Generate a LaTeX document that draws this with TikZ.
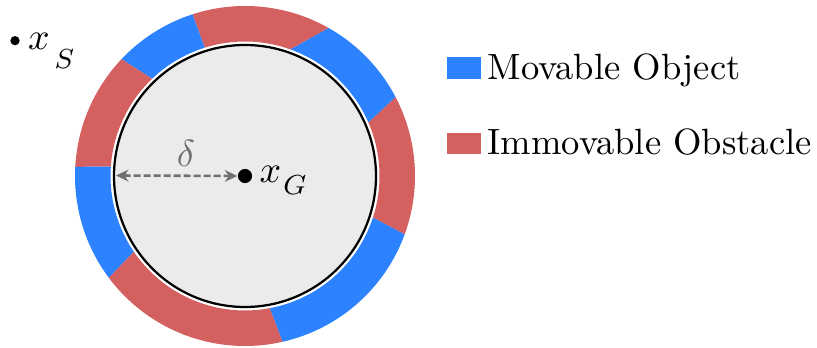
\documentclass[tikz,border=0pt]{standalone}
\usetikzlibrary{arrows.meta}
\definecolor{movblue}{RGB}{44,130,255}
\definecolor{obsred}{RGB}{212,96,96}
\definecolor{fieldgray}{RGB}{235,235,235}
\definecolor{dimgray}{RGB}{112,112,112}
% one piece of the ring: outer start/end angle, inner start/end angle, colour
\newcommand\ringpiece[5]{%
  \fill[#5] (#1:170) arc[start angle=#1,end angle=#2,radius=170]
    -- (#4:134.5) arc[start angle=#4,end angle=#3,radius=134.5] -- cycle;}
\begin{document}
\begin{tikzpicture}[x=0.29pt,y=0.29pt,
  dotnode/.style={circle,fill=black,inner sep=0pt,minimum size=#1},
  legendbox/.style={inner sep=0pt,minimum width=9.7pt,minimum height=6.2pt},
  label text/.style={inner sep=0pt,anchor=base west,font=\fontsize{10.6}{12.7}\selectfont},
  math label/.style={inner sep=0pt,anchor=base west,font=\fontsize{11.3}{13.5}\selectfont},
  dimline/.style={draw=dimgray,line width=0.75pt,dash pattern=on 2pt off 0.9pt,
    {Stealth[length=3.6pt,width=3.4pt]}-{Stealth[length=3.6pt,width=3.4pt]}}]
\useasboundingbox (0,0) rectangle (817,348);

% ring of movable objects and immovable obstacles
\begin{scope}[shift={(245,172)}]
  \ringpiece{-20.1}{27.7}{-18.0}{23.5}{obsred}
  \ringpiece{27.7}{60.6}{23.5}{70.4}{movblue}
  \ringpiece{60.6}{108.0}{70.4}{107.4}{obsred}
  \ringpiece{108.0}{136.6}{107.4}{133.7}{movblue}
  \ringpiece{136.6}{176.9}{133.7}{176.0}{obsred}
  \ringpiece{176.9}{216.8}{176.0}{214.3}{movblue}
  \ringpiece{216.8}{282.8}{214.3}{280.7}{obsred}
  \ringpiece{282.8}{339.9}{280.7}{342.0}{movblue}
  \draw[fill=fieldgray,line width=0.65pt] (0,0) circle[radius=131];
\end{scope}

% goal, its radius delta, and start
\coordinate (rim) at (116,172.5);
\node[dotnode=4.1pt] (g) at (245,172) {};
\draw[dimline] (rim) -- (g.west);
\node[math label,anchor=base,text=dimgray] (delta) at (186,181) {$\delta$};
\node[math label] (gl) at (259,165.7)
  {$x\kern0.6pt_{\raisebox{-1.9pt}{$\scriptstyle G$}}$};

\node[dotnode=2.7pt] (s) at (15,307.3) {};
\node[math label] (sl) at (27.5,298)
  {$x\kern1.4pt_{\raisebox{-3.6pt}{$\scriptstyle S$}}$};

% legend
\node[legendbox,fill=movblue] (mob) at (464,280) {};
\node[label text] (mobt) at (487,268.7) {Movable Object};
\node[legendbox,fill=obsred] (obs) at (464,204.2) {};
\node[label text] (obst) at (487,193) {Immovable Obstacle};
\end{tikzpicture}
\end{document}
